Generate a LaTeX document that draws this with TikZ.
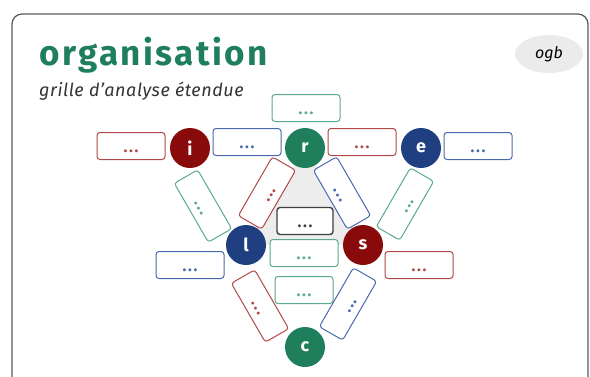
\documentclass[tikz,border=0pt]{standalone}
\usepackage{fontspec}
\setmainfont{Fira Sans}
\newfontfamily\dotfont[LetterSpace=10]{Fira Sans}
\usetikzlibrary{positioning, shapes.geometric, backgrounds}
\definecolor{ogreen}{HTML}{1F7F5C}
\definecolor{ored}{HTML}{880A0A}
\definecolor{oblue}{HTML}{1F3F80}
\definecolor{lred}{HTML}{B04848}
\definecolor{lblue}{HTML}{4A68AE}
\definecolor{lgreen}{HTML}{5AAA8C}

\begin{document}
\begin{tikzpicture}[
    x=1pt, y=-1pt,
    letter/.style={circle, minimum size=40pt, inner sep=0pt, text=white, font=\fontsize{18}{20}\selectfont\bfseries},
    slot/.style={draw=#1, text=#1, fill=white, rounded corners=3pt, line width=1pt, minimum width=68pt, minimum height=27pt, inner sep=0pt, text height=12.5pt, text depth=0pt, font=\dotfont\fontsize{16}{16}\selectfont\bfseries},
    title/.style={anchor=base west, inner sep=0pt}
]
    \clip (0,0) rectangle (590,376);
    % card
    \draw[black!65, line width=1.2pt, rounded corners=10pt] (12,420) -- (12,14) -- (588,14) -- (588,420);

    \node[title, text=ogreen, font=\fontsize{35}{35}\selectfont\bfseries\addfontfeatures{LetterSpace=7}] (name) at (39,65) {organisation};
    \node[title, text=black!80, font=\fontsize{18}{18}\selectfont\itshape\addfontfeatures{LetterSpace=3}] (sub) at (39,96) {grille d’analyse étendue};
    \node[ellipse, fill=black!8, minimum width=68pt, minimum height=38pt, inner sep=0pt, font=\fontsize{16}{16}\selectfont\itshape] (tag) at (549,54) {ogb};

    % letters
    \node[letter, fill=ored] (i) at (190,148) {i};
    \node[letter, fill=ogreen] (r) at (305,148) {r};
    \node[letter, fill=oblue] (e) at (421,148) {e};
    \node[letter, fill=oblue] (l) at (246,245) {l};
    \node[letter, fill=ored] (s) at (363,245) {s};
    \node[letter, fill=ogreen] (c) at (305,347) {c};

    \begin{scope}[on background layer]
        \fill[black!7] (r.center) -- (l.center) -- (s.center) -- cycle;
    \end{scope}

    % top row
    \node[slot=lred] (ileft) at (131,146) {...};
    \node[slot=lblue] (ir) at (247,142) {...};
    \node[slot=lgreen] (rtop) at (306,108) {...};
    \node[slot=lred] (re) at (362,142) {...};
    \node[slot=lblue] (eright) at (478,146) {...};

    % diagonals
    \node[slot=lgreen, rotate=-60] (il) at (203,206) {...};
    \node[slot=lred, rotate=60] (rl) at (267,193) {...};
    \node[slot=lblue, rotate=-60] (rs) at (342,193) {...};
    \node[slot=lgreen, rotate=60] (es) at (405,204) {...};
    \node[slot=lred, rotate=-60] (lc) at (260,306) {...};
    \node[slot=lblue, rotate=60] (sc) at (348,304) {...};

    % middle
    \node[slot=black!75, line width=1.4pt, minimum width=56pt] (mid) at (305,221) {...};
    \node[slot=lgreen] (ls) at (304,253) {...};
    \node[slot=lgreen, minimum width=58pt] (low) at (304,290) {...};

    % sides of l and s
    \node[slot=lblue] (lleft) at (190,265) {...};
    \node[slot=lred] (sright) at (419,265) {...};
\end{tikzpicture}
\end{document}
